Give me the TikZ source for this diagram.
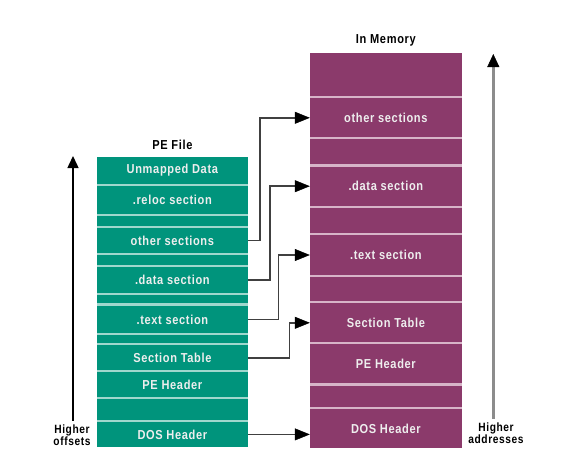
\documentclass[tikz,border=0pt]{standalone}
\usepackage{fontspec}
\setmainfont{Liberation Sans}[FakeStretch=0.85,LetterSpace=5]
\usetikzlibrary{arrows.meta}
\definecolor{peteal}{RGB}{0,148,124}
\definecolor{pegap}{RGB}{160,215,205}
\definecolor{mempurple}{RGB}{139,58,107}
\definecolor{memgap}{RGB}{215,180,200}
\definecolor{boxtext}{RGB}{238,238,238}
\tikzset{
  filebox/.style={rectangle, fill=peteal, minimum width=151.3pt, inner sep=0pt, text=boxtext, font=\bfseries\fontsize{13}{14}\selectfont},
  membox/.style={rectangle, fill=mempurple, minimum width=151.7pt, inner sep=0pt, text=boxtext, font=\bfseries\fontsize{13}{14}\selectfont},
  title/.style={font=\bfseries\fontsize{13}{14}\selectfont, text=black},
  sidelabel/.style={font=\bfseries\fontsize{12}{12.5}\selectfont, align=center, text=black},
  link/.style={draw=black!75, line width=1.6pt, -{Triangle[length=15pt,width=12pt,color=black,fill=black,line width=0.5pt]}},
}
\begin{document}
\begin{tikzpicture}[x=1pt,y=-1pt]
\useasboundingbox (0,0) rectangle (561,461);
% background strips for the separators
\fill[pegap] (96.7,156.7) rectangle (248,446.7);
\fill[memgap] (310,53.3) rectangle (461.7,448.3);
% PE file column
\node[filebox, minimum height=27.6pt] (fUnm) at (172.35,170.5) {Unmapped Data};
\node[filebox, minimum height=28.3pt] (fReloc) at (172.35,200.2) {.reloc section};
\node[filebox, minimum height=9.7pt] (fg1) at (172.35,220.9) {};
\node[filebox, minimum height=25.6pt] (fOther) at (172.35,240.5) {other sections};
\node[filebox, minimum height=9.7pt] (fg2) at (172.35,260.2) {};
\node[filebox, minimum height=26.6pt] (fData) at (172.35,280) {.data section};
\node[filebox, minimum height=8pt] (fg3) at (172.35,299.3) {};
\node[filebox, minimum height=26.7pt] (fText) at (172.35,319.4) {.text section};
\node[filebox, minimum height=8.6pt] (fg4) at (172.35,339) {};
\node[filebox, minimum height=24.7pt] (fSec) at (172.35,357.7) {Section Table};
\node[filebox, minimum height=24.7pt] (fPE) at (172.35,384.4) {PE Header};
\node[filebox, minimum height=21.3pt] (fg5) at (172.35,409.4) {};
\node[filebox, minimum height=24.7pt] (fDOS) at (172.35,434.4) {DOS Header};
% memory column
\node[membox, minimum height=42.7pt] (m0) at (385.85,74.7) {};
\node[membox, minimum height=39pt] (mOther) at (385.85,117.8) {other sections};
\node[membox, minimum height=25pt] (m1) at (385.85,151.8) {};
\node[membox, minimum height=39pt] (mData) at (385.85,186.2) {.data section};
\node[membox, minimum height=25pt] (m2) at (385.85,220.2) {};
\node[membox, minimum height=40pt] (mText) at (385.85,255) {.text section};
\node[membox, minimum height=23.7pt] (m3) at (385.85,289.2) {};
\node[membox, minimum height=39pt] (mSec) at (385.85,322.8) {Section Table};
\node[membox, minimum height=39pt] (mPE) at (385.85,363.8) {PE Header};
\node[membox, minimum height=21pt] (m4) at (385.85,396.2) {};
\node[membox, minimum height=39pt] (mDOS) at (385.85,428.8) {DOS Header};
% titles
\node[title] (tFile) at (172.35,145) {PE File};
\node[title] (tMem) at (385.85,40) {In Memory};
% connectors
\draw[link] (fOther.east) -- ++(11.5,0) |- (mOther.west);
\draw[link] (fData.east) -- ++(22,0) |- (mData.west);
\draw[link] (fText.east) -- ++(30.3,0) |- (mText.west);
\draw[link] (fSec.east) -- ++(41.3,0) |- (mSec.west);
\draw[link] (fDOS.east) -- (fDOS.east -| mDOS.west);
% side arrows
\node[sidelabel] (lOff) at (72,435) {Higher\\offsets};
\node[sidelabel] (lAddr) at (496,433) {Higher\\addresses};
\coordinate (offTop) at (73,156);
\coordinate (addrTop) at (493.3,54);
\draw[black, line width=1.5pt, -{Triangle[length=12pt,width=11pt]}] (lOff.north -| offTop) -- (offTop);
\draw[black!45, line width=2.5pt, -{Triangle[length=13pt,width=12pt,color=black,fill=black,line width=0.5pt]}] (lAddr.north -| addrTop) -- (addrTop);
\end{tikzpicture}
\end{document}
